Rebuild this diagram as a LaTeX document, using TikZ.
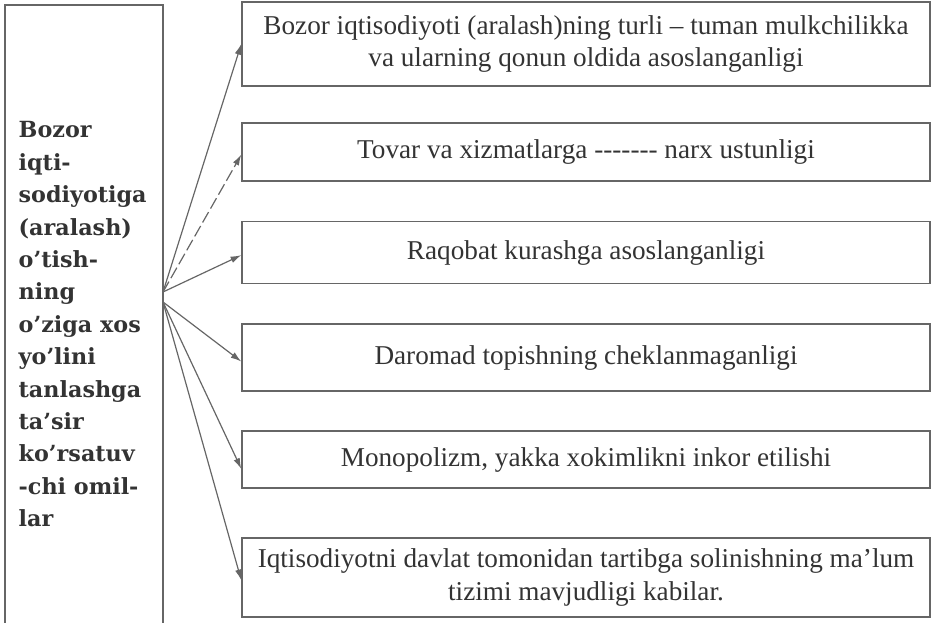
\documentclass[tikz,border=0pt]{standalone}
\usepackage{fontspec}
\setmainfont{Liberation Serif}
\newfontfamily\sidefont{DejaVu Serif}
\usetikzlibrary{positioning,arrows.meta}
\definecolor{scanGrey}{HTML}{666666}
\definecolor{scanInk}{HTML}{333333}

\begin{document}
\begin{tikzpicture}[x=0.75pt,y=-0.75pt,
  factorbox/.style={draw=scanGrey,line width=1.1pt,minimum width=516pt,inner sep=0pt,
    align=center,text=scanInk,font=\fontsize{20.4}{24.5}\selectfont},
  fan/.style={scanGrey,line width=0.9pt,-{Latex[length=8pt,width=5pt]}}]
  \useasboundingbox (0,0) rectangle (942,622);
  % left column, open at the bottom
  \draw[scanGrey,line width=1.1pt] (5,640) -- (5,5) -- (163,5) -- (163,640);
  \node[anchor=north west,align=left,text=scanInk,
    font=\sidefont\bfseries\fontsize{16.7}{24.3}\selectfont] (side) at (14,117)
    {Bozor\\iqti-\\sodiyotiga\\(aralash)\\o’tish-\\ning\\o’ziga xos\\yo’lini\\tanlashga\\ta’sir\\ko’rsatuv\\-chi omil-\\lar};
  \coordinate (hubup) at (163,292);
  \coordinate (hubdown) at (163,302);
  % factors
  \node[factorbox,minimum height=63pt] (b1) at (586,44)
    {Bozor iqtisodiyoti (aralash)ning turli – tuman mulkchilikka\\va ularning qonun oldida asoslanganligi};
  \node[factorbox,minimum height=43.5pt] (b2) at (586,152)
    {Tovar va xizmatlarga -{}-{}-{}-{}-{}-{}- narx ustunligi};
  \node[factorbox,minimum height=46.5pt] (b3) at (586,252.5) {Raqobat kurashga asoslanganligi};
  \node[factorbox,minimum height=50pt] (b4) at (586,357.5) {Daromad topishning cheklanmaganligi};
  \node[factorbox,minimum height=43pt] (b5) at (586,459.5) {Monopolizm, yakka xokimlikni inkor etilishi};
  \node[factorbox,minimum height=59pt] (b6) at (586,577.5)
    {Iqtisodiyotni davlat tomonidan tartibga solinishning ma’lum\\tizimi mavjudligi kabilar.};
  % arrows
  \draw[fan] (hubup) -- (b1.west);
  \draw[fan,dash pattern=on 9pt off 3pt] (hubup) -- ([yshift=-2pt]b2.west);
  \draw[fan] (hubup) -- ([yshift=-2pt]b3.west);
  \draw[fan] (hubdown) -- ([yshift=-3pt]b4.west);
  \draw[fan] (hubdown) -- ([yshift=-7pt]b5.west);
  \draw[fan] (hubdown) -- ([yshift=-2pt]b6.west);
\end{tikzpicture}
\end{document}
